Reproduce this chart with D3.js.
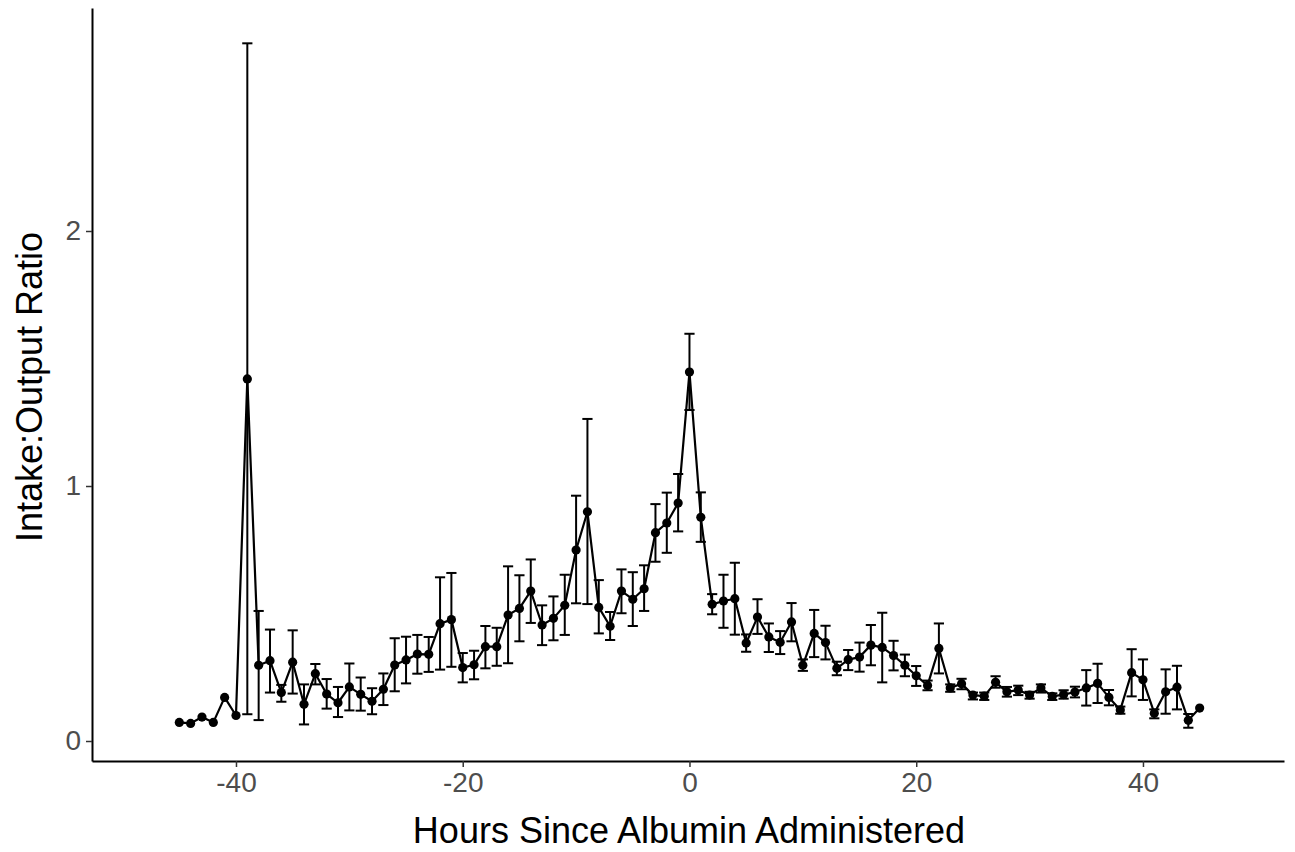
<!DOCTYPE html>
<html>
<head>
<meta charset="utf-8">
<script src="https://cdn.jsdelivr.net/npm/d3@7"></script>
<style>
  html, body { margin: 0; padding: 0; background: #fff; }
  text { font-family: Arial, "Liberation Sans", sans-serif; }
</style>
</head>
<body>
<svg id="chart" width="1295" height="852"></svg>
<script>
const hours = d3.range(-45, 46);
const meanRatio = [
  0.073, 0.069, 0.094, 0.073, 0.171, 0.100, 1.420, 0.297, 0.315, 0.190,
  0.309, 0.144, 0.264, 0.184, 0.150, 0.212, 0.183, 0.156, 0.203, 0.298,
  0.318, 0.341, 0.340, 0.460, 0.476, 0.288, 0.299, 0.370, 0.370, 0.494,
  0.520, 0.588, 0.455, 0.481, 0.532, 0.749, 0.899, 0.524, 0.450, 0.588,
  0.556, 0.597, 0.817, 0.855, 0.933, 1.447, 0.877, 0.536, 0.549, 0.558,
  0.384, 0.486, 0.408, 0.387, 0.467, 0.297, 0.422, 0.386, 0.285, 0.319,
  0.329, 0.376, 0.367, 0.335, 0.297, 0.256, 0.218, 0.363, 0.208, 0.225,
  0.180, 0.176, 0.230, 0.193, 0.200, 0.180, 0.208, 0.175, 0.182, 0.192,
  0.208, 0.226, 0.171, 0.122, 0.268, 0.240, 0.109, 0.193, 0.211, 0.081,
  0.129
];
const lowerRatio = [
  null, null, null, null, null, null, 0.105, 0.082, 0.190, 0.154,
  0.186, 0.065, 0.222, 0.127, 0.094, 0.120, 0.119, 0.105, 0.141, 0.195,
  0.226, 0.264, 0.271, 0.280, 0.291, 0.230, 0.242, 0.285, 0.295, 0.305,
  0.391, 0.463, 0.376, 0.395, 0.416, 0.540, 0.537, 0.422, 0.396, 0.501,
  0.451, 0.510, 0.703, 0.738, 0.822, 1.298, 0.781, 0.497, 0.444, 0.417,
  0.350, 0.420, 0.349, 0.341, 0.391, 0.275, 0.329, 0.320, 0.258, 0.278,
  0.272, 0.297, 0.230, 0.277, 0.254, 0.216, 0.199, 0.265, 0.193, 0.203,
  0.163, 0.161, 0.209, 0.174, 0.180, 0.166, 0.190, 0.161, 0.166, 0.171,
  0.139, 0.149, 0.140, 0.107, 0.175, 0.161, 0.089, 0.107, 0.124, 0.052,
  null
];
const upperRatio = [
  null, null, null, null, null, null, 2.736, 0.510, 0.437, 0.220,
  0.434, 0.222, 0.302, 0.243, 0.212, 0.304, 0.249, 0.207, 0.265, 0.403,
  0.409, 0.416, 0.408, 0.642, 0.659, 0.345, 0.354, 0.451, 0.444, 0.685,
  0.650, 0.712, 0.532, 0.567, 0.652, 0.962, 1.263, 0.631, 0.506, 0.673,
  0.662, 0.689, 0.929, 0.974, 1.047, 1.597, 0.975, 0.576, 0.652, 0.699,
  0.418, 0.556, 0.461, 0.431, 0.541, 0.320, 0.514, 0.452, 0.311, 0.357,
  0.386, 0.455, 0.503, 0.393, 0.339, 0.294, 0.237, 0.461, 0.222, 0.244,
  0.190, 0.190, 0.254, 0.212, 0.217, 0.193, 0.222, 0.187, 0.199, 0.213,
  0.278, 0.303, 0.200, 0.135, 0.360, 0.320, 0.124, 0.281, 0.295, 0.106,
  null
];
const xTicks = [-40, -20, 0, 20, 40];
const yTicks = [0, 1, 2];
const xTitle = "Hours Since Albumin Administered";
const yTitle = "Intake:Output Ratio";

const data = hours.map((h, i) => ({ h, m: meanRatio[i], lo: lowerRatio[i], hi: upperRatio[i] }));

const svg = d3.select("#chart");
const x = d3.scaleLinear().domain([-52.7, 52.44]).range([92, 1284]);
const y = d3.scaleLinear().domain([-0.0784, 2.8745]).range([761, 8]);
const capHalf = 0.45;

// axes
const xAxis = svg.append("g").attr("transform", "translate(0,761)")
  .call(d3.axisBottom(x).tickValues(xTicks).tickSizeInner(6).tickSizeOuter(0).tickPadding(5).tickFormat(d3.format("d")));
const yAxis = svg.append("g").attr("transform", "translate(92,0)")
  .call(d3.axisLeft(y).tickValues(yTicks).tickSizeInner(6).tickSizeOuter(0).tickPadding(5).tickFormat(d3.format("d")));
[xAxis, yAxis].forEach(g => {
  g.select(".domain").attr("stroke", "#000").attr("stroke-width", 2);
  g.selectAll(".tick line").attr("stroke", "#333").attr("stroke-width", 1.5);
  g.selectAll(".tick text").attr("fill", "#4d4d4d").style("font-size", "28px")
    .style("font-family", "Arial, 'Liberation Sans', sans-serif");
});
xAxis.selectAll(".tick text").text(d => d < 0 ? "-" + Math.abs(d) : String(d));

// error bars
const eb = svg.append("g").attr("stroke", "#000").attr("stroke-width", 2).attr("fill", "none");
data.filter(d => d.lo !== null).forEach(d => {
  eb.append("line").attr("x1", x(d.h)).attr("x2", x(d.h)).attr("y1", y(d.lo)).attr("y2", y(d.hi));
  eb.append("line").attr("x1", x(d.h - capHalf)).attr("x2", x(d.h + capHalf)).attr("y1", y(d.hi)).attr("y2", y(d.hi));
  eb.append("line").attr("x1", x(d.h - capHalf)).attr("x2", x(d.h + capHalf)).attr("y1", y(d.lo)).attr("y2", y(d.lo));
});

// line
svg.append("path").datum(data)
  .attr("fill", "none").attr("stroke", "#000").attr("stroke-width", 2.2).attr("stroke-linejoin", "round")
  .attr("d", d3.line().x(d => x(d.h)).y(d => y(d.m)));

// points
svg.append("g").selectAll("circle").data(data).join("circle")
  .attr("cx", d => x(d.h)).attr("cy", d => y(d.m)).attr("r", 4.6).attr("fill", "#000");

// titles
svg.append("text").attr("x", 689).attr("y", 843)
  .attr("text-anchor", "middle").style("font-size", "36px").attr("fill", "#000").text(xTitle);
svg.append("text").attr("transform", "translate(42,387) rotate(-90)")
  .attr("text-anchor", "middle").style("font-size", "36px").attr("fill", "#000").text(yTitle);
</script>
</body>
</html>
